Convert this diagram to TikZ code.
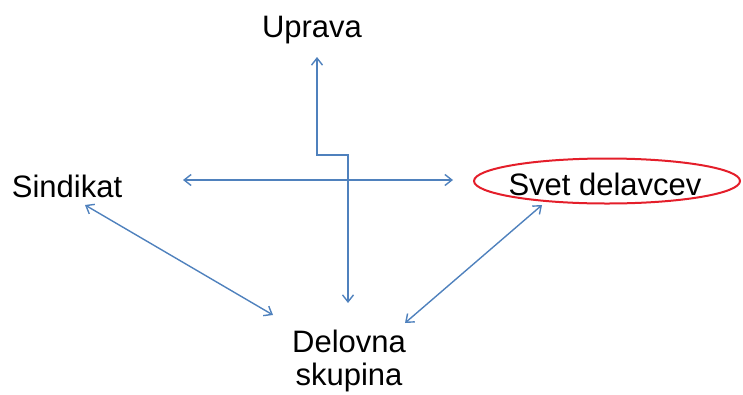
\documentclass[tikz,border=0pt]{standalone}
\usepackage{fontspec}
\setmainfont{Liberation Sans}
\usetikzlibrary{arrows.meta,shapes.geometric}
\definecolor{linkblue}{RGB}{79,129,189}
\definecolor{ovalred}{RGB}{228,30,42}
\tikzset{
  lbl/.style={font=\fontsize{31}{33}\selectfont, inner sep=0pt, anchor=base, text=black},
  link/.style={draw=linkblue, line width=1.4pt, {Straight Barb[length=7pt,width=11pt]}-{Straight Barb[length=7pt,width=11pt]}},
}
\begin{document}
\begin{tikzpicture}[x=1pt,y=-1pt]
\useasboundingbox (0,0) rectangle (743,394);
\node[lbl] (uprava) at (312,37) {Uprava};
\node[lbl] (sindikat) at (67,197) {Sindikat};
\node[lbl] (svet) at (605,195) {Svet delavcev};
\node[draw=ovalred, line width=2pt, ellipse, minimum width=266pt, minimum height=45pt, inner sep=0pt] (oval) at (607,181) {};
\node[lbl, align=center] (delovna) at (349,385) {Delovna\\skupina};
% connector endpoints
\coordinate (upA) at (317,57);
\coordinate (upB) at (348,303);
\coordinate (hA) at (183,180);
\coordinate (hB) at (453,180);
\coordinate (sA) at (85,205);
\coordinate (sB) at (273,315);
\coordinate (vA) at (542,205);
\coordinate (vB) at (405,323);
\draw[link] (upA) -- (317,155) -- (348,155) -- (upB);
\draw[link] (hA) -- (hB);
\draw[link] (sA) -- (sB);
\draw[link] (vA) -- (vB);
\end{tikzpicture}
\end{document}
